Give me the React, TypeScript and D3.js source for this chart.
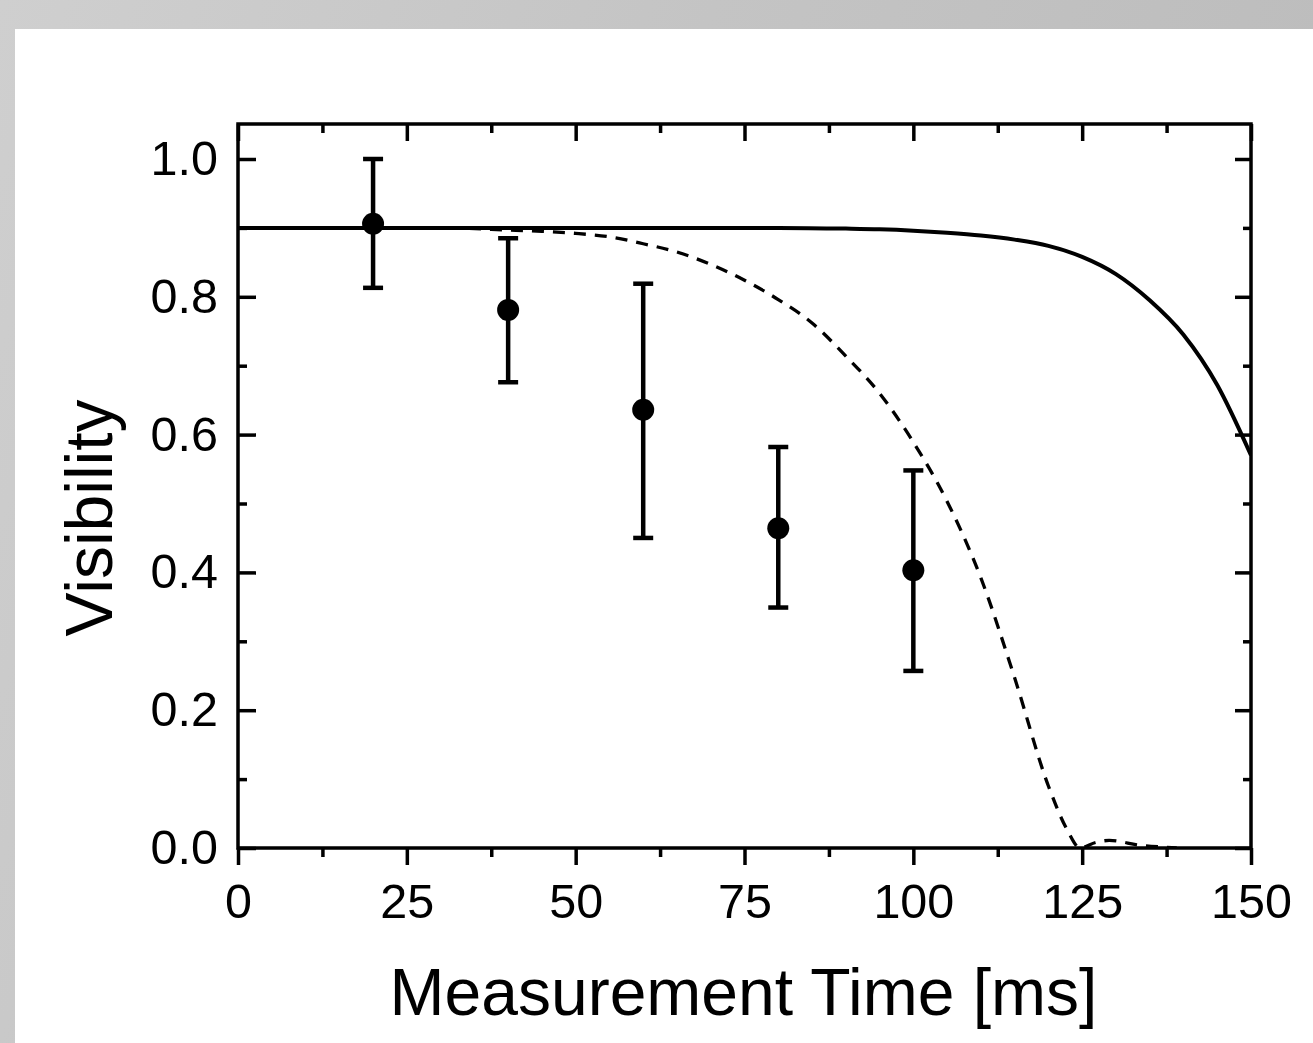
import React, { useEffect, useRef } from "react";
import * as d3 from "d3";

// Measured data
const times = [20, 40, 60, 80, 100];
const visibility = [0.906, 0.781, 0.636, 0.464, 0.403];
const errLower = [0.813, 0.676, 0.45, 0.349, 0.257];
const errUpper = [1.0, 0.885, 0.819, 0.582, 0.548];

// Solid model curve
const solidT = [0, 20, 40, 60, 80, 90, 95, 100, 105, 110, 115, 120, 125, 130, 135, 140, 145, 150];
const solidV = [0.9, 0.9, 0.9, 0.9, 0.9, 0.899, 0.898, 0.896, 0.893, 0.889, 0.883, 0.874, 0.858, 0.833, 0.795, 0.745, 0.672, 0.57];

// Dashed model curve
const dashT = [0, 30, 40, 45, 50, 55, 60, 65, 70, 75, 80, 85, 90, 95, 100, 105, 110, 115, 120, 122.8, 124.7, 127, 129, 133.6, 137.5, 139];
const dashV = [0.9, 0.9, 0.897, 0.895, 0.892, 0.887, 0.877, 0.865, 0.847, 0.824, 0.796, 0.762, 0.714, 0.66, 0.589, 0.503, 0.392, 0.247, 0.09, 0.026, 0.0, 0.008, 0.011, 0.004, 0.001, 0.0];

// Ticks
const xMajor = [0, 25, 50, 75, 100, 125, 150];
const xMinor = [12.5, 37.5, 62.5, 87.5, 112.5, 137.5];
const yMajor = [0, 0.2, 0.4, 0.6, 0.8, 1.0];
const yMinor = [0.1, 0.3, 0.5, 0.7, 0.9];

const xLabel = "Measurement Time [ms]";
const yLabel = "Visibility";

const W = 1313;
const H = 1043;
const L = 238, R = 1251, T = 124, B = 848;
const FONT = "'Liberation Sans', Arial, Helvetica, sans-serif";

export default function App() {
  const ref = useRef<SVGGElement>(null);
  const x = d3.scaleLinear().domain([0, 150]).range([L, R]);
  const y = d3.scaleLinear().domain([0, 1.0]).range([B, B - 689]);

  useEffect(() => {
    const g = d3.select(ref.current);
    g.selectAll("*").remove();
    const style = (sel: any) => {
      sel.select(".domain").remove();
      sel.selectAll("line").attr("stroke", "#000").attr("stroke-width", 3.5);
      sel.selectAll("text").attr("font-family", FONT).attr("font-size", 48.5).attr("fill", "#000");
    };
    // bottom
    g.append("g").attr("transform", `translate(0,${B})`)
      .call(d3.axisBottom(x).tickValues(xMajor).tickSize(17).tickPadding(19).tickFormat((d: any) => String(d)))
      .call(style);
    g.append("g").attr("transform", `translate(0,${B})`)
      .call(d3.axisBottom(x).tickValues(xMinor).tickSize(9).tickFormat(() => ""))
      .call(style);
    // top
    g.append("g").attr("transform", `translate(0,${T})`)
      .call(d3.axisTop(x).tickValues(xMajor).tickSize(-17).tickFormat(() => ""))
      .call(style);
    g.append("g").attr("transform", `translate(0,${T})`)
      .call(d3.axisTop(x).tickValues(xMinor).tickSize(-9).tickFormat(() => ""))
      .call(style);
    // left
    g.append("g").attr("transform", `translate(${L},0)`)
      .call(d3.axisLeft(y).tickValues(yMajor).tickSize(-18).tickPadding(20).tickFormat(d3.format(".1f") as any))
      .call(style);
    g.append("g").attr("transform", `translate(${L},0)`)
      .call(d3.axisLeft(y).tickValues(yMinor).tickSize(-9).tickFormat(() => ""))
      .call(style);
    // right
    g.append("g").attr("transform", `translate(${R},0)`)
      .call(d3.axisRight(y).tickValues(yMajor).tickSize(-16).tickFormat(() => ""))
      .call(style);
    g.append("g").attr("transform", `translate(${R},0)`)
      .call(d3.axisRight(y).tickValues(yMinor).tickSize(-8).tickFormat(() => ""))
      .call(style);
  }, []);

  const line = d3.line<number>().curve(d3.curveMonotoneX);
  const solidPath = line(solidT.map((t, i) => [x(t), y(solidV[i])] as any) as any);
  const dashPath = line(dashT.map((t, i) => [x(t), y(dashV[i])] as any) as any);

  return (
    <svg width={W} height={H} style={{ position: "absolute", left: 0, top: 0, display: "block" }}>
      <defs>
        <linearGradient id="bg" x1="0" y1="0" x2="1" y2="0.3">
          <stop offset="0" stopColor="#cfcfcf" />
          <stop offset="0.5" stopColor="#c4c4c4" />
          <stop offset="1" stopColor="#bcbcbc" />
        </linearGradient>
        <clipPath id="plotclip">
          <rect x={L} y={T} width={R - L} height={B - T} />
        </clipPath>
      </defs>
      <rect x={0} y={0} width={W} height={H} fill="url(#bg)" />
      <rect x={15} y={29} width={W - 15} height={H - 29} fill="#fff" />

      <g clipPath="url(#plotclip)">
        <path d={dashPath || ""} fill="none" stroke="#000" strokeWidth={3.3} strokeDasharray="12,9" />
        <path d={solidPath || ""} fill="none" stroke="#000" strokeWidth={4} />
      </g>

      {times.map((t, i) => (
        <g key={i}>
          <line x1={x(t)} x2={x(t)} y1={y(errLower[i])} y2={y(errUpper[i])} stroke="#000" strokeWidth={4.5} />
          <line x1={x(t) - 10} x2={x(t) + 10} y1={y(errLower[i])} y2={y(errLower[i])} stroke="#000" strokeWidth={4.5} />
          <line x1={x(t) - 10} x2={x(t) + 10} y1={y(errUpper[i])} y2={y(errUpper[i])} stroke="#000" strokeWidth={4.5} />
          <circle cx={x(t)} cy={y(visibility[i])} r={11} fill="#000" />
        </g>
      ))}

      <rect x={L} y={T} width={R - L} height={B - T} fill="none" stroke="#000" strokeWidth={3.5} />
      <g ref={ref} />

      <text x={(L + R) / 2 - 1} y={1015} textAnchor="middle" fontFamily={FONT} fontSize={66} fill="#000">
        {xLabel}
      </text>
      <text transform={`translate(112,518) rotate(-90)`} textAnchor="middle" fontFamily={FONT} fontSize={66} fill="#000">
        {yLabel}
      </text>
    </svg>
  );
}
